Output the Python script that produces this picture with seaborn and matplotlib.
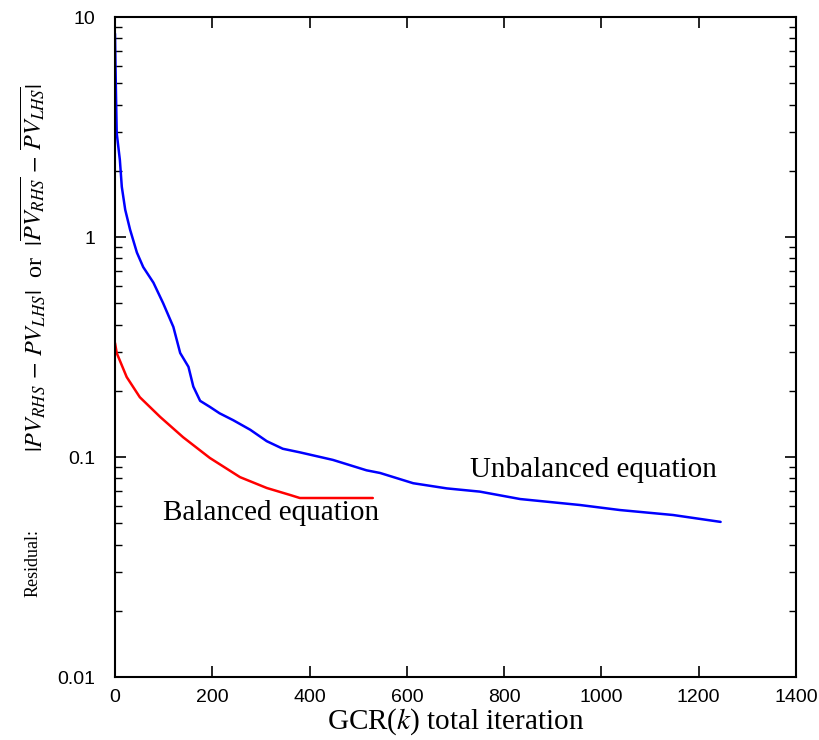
import numpy as np
import pandas as pd
import matplotlib
matplotlib.use("Agg")
import matplotlib.pyplot as plt
import seaborn as sns
from matplotlib.ticker import FuncFormatter, FixedLocator

# ---- data ----
unbal_x = [0, 1, 2, 3.5, 10, 14, 21, 31, 45, 58, 79, 99, 120, 134, 151, 161, 175, 195,
           215, 243, 278, 312, 345, 380, 448, 517, 545, 613, 682, 750, 833, 956, 1038,
           1147, 1245]
unbal_y = [8.4, 6.0, 4.5, 2.97, 2.24, 1.69, 1.33, 1.08, 0.85, 0.73, 0.62, 0.50, 0.39, 0.297,
           0.257, 0.209, 0.18, 0.169, 0.158, 0.147, 0.133, 0.118, 0.109, 0.105, 0.097,
           0.087, 0.0846, 0.076, 0.072, 0.0696, 0.0644, 0.0605, 0.0574, 0.0545, 0.0507]

bal_x = [0, 3.5, 24, 51, 93, 140, 195, 257, 312, 360, 380, 530]
bal_y = [0.33, 0.297, 0.231, 0.187, 0.152, 0.123, 0.099, 0.081, 0.0723, 0.0672, 0.0651, 0.0651]

x_ticks = [0, 200, 400, 600, 800, 1000, 1200, 1400]
y_ticks = [0.01, 0.1, 1, 10]

sns.set_theme(style="ticks")
plt.rcParams['font.family'] = ['Liberation Serif', 'DejaVu Serif']
plt.rcParams['mathtext.fontset'] = 'stix'
plt.rcParams['text.color'] = 'black'
plt.rcParams['axes.labelcolor'] = 'black'

fig = plt.figure(figsize=(8.19, 7.40), dpi=100)
ax = fig.add_axes([115/819, 1-677/740, (796-115)/819, (677-17)/740])

df_u = pd.DataFrame({'x': unbal_x, 'y': unbal_y})
df_b = pd.DataFrame({'x': bal_x, 'y': bal_y})
sns.lineplot(data=df_u, x='x', y='y', ax=ax, color='#0000ff', lw=1.8,
             estimator=None, sort=False)
sns.lineplot(data=df_b, x='x', y='y', ax=ax, color='#ff0000', lw=1.8,
             estimator=None, sort=False)

ax.set_yscale('log')
ax.set_xlim(0, 1400)
ax.set_ylim(0.01, 10)
ax.xaxis.set_major_locator(FixedLocator(x_ticks))
ax.yaxis.set_major_locator(FixedLocator(y_ticks))
ax.yaxis.set_major_formatter(FuncFormatter(lambda v, p: f'{v:g}'))
ax.xaxis.set_major_formatter(FuncFormatter(lambda v, p: f'{v:g}'))
ax.tick_params(axis='both', which='both', direction='in', top=True, right=True,
               colors='black', labelsize=14)
ax.tick_params(axis='both', which='major', length=8, width=1.2)
ax.tick_params(axis='x', which='major', pad=9)
ax.tick_params(axis='y', which='major', pad=14)
ax.tick_params(axis='both', which='minor', length=5, width=1.0)
ax.tick_params(axis='x', which='minor', bottom=False, top=False)
for lab in ax.get_xticklabels() + ax.get_yticklabels():
    lab.set_family(['Liberation Sans', 'DejaVu Sans'])
for s in ax.spines.values():
    s.set_linewidth(1.5)
    s.set_color('black')

ax.set_xlabel('GCR($k$) total iteration', fontsize=21, labelpad=0, color='black')
ax.set_ylabel('')

ax.text(-0.12, 0.62,
        r'$|PV_{RHS}\,-\,PV_{LHS}|$  or  $|\overline{PV_{RHS}}\,-\,\overline{PV_{LHS}}|$',
        rotation=90, ha='center', va='center', fontsize=17.5, transform=ax.transAxes,
        color='black')
ax.text(-0.12, 0.172, 'Residual:', rotation=90, ha='center', va='center',
        fontsize=13, transform=ax.transAxes, color='black')

ax.text(730, 0.0873, 'Unbalanced equation', fontsize=21, ha='left', va='center',
        color='black')
ax.text(99, 0.0556, 'Balanced equation', fontsize=21, ha='left', va='center',
        color='black')

fig.savefig('out.png', dpi=100)
